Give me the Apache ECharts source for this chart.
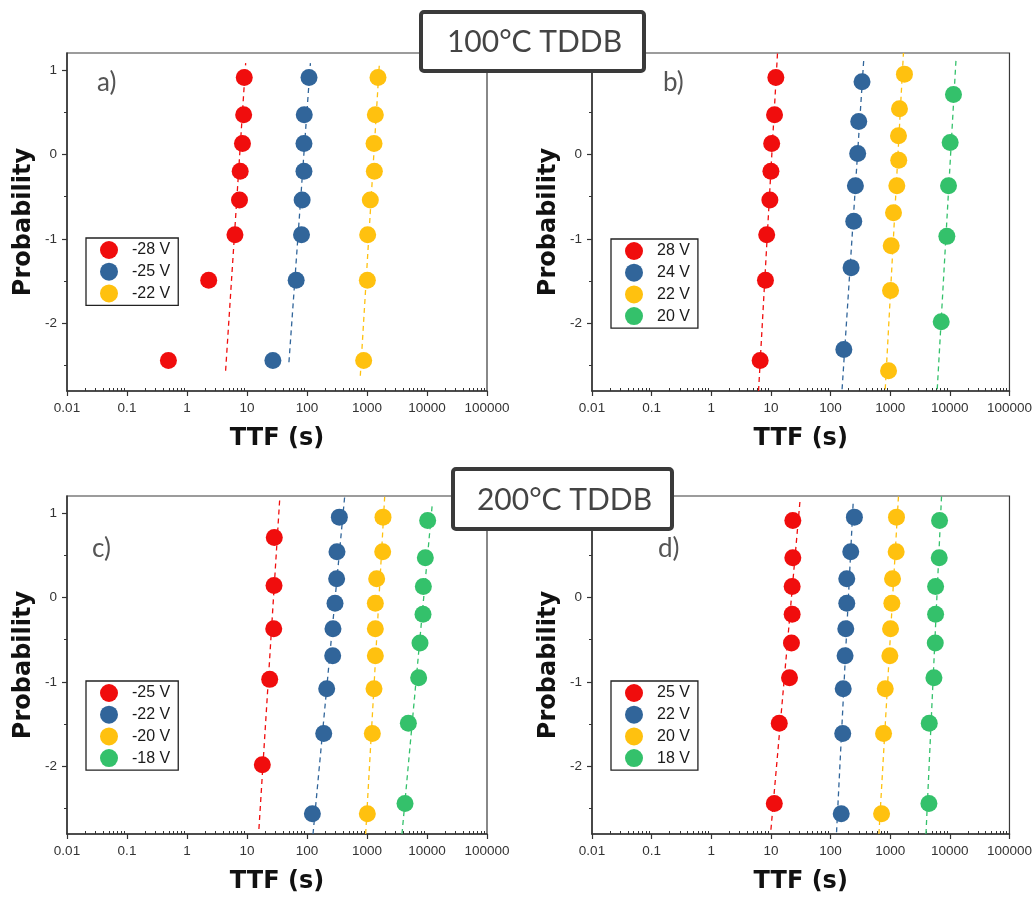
<!DOCTYPE html>
<html>
<head>
<meta charset="utf-8">
<script src="https://cdn.jsdelivr.net/npm/echarts@6/dist/echarts.min.js"></script>
<style>
  html, body { margin: 0; padding: 0; background: #fff; }
  #chart { width: 1035px; height: 900px; }
</style>
</head>
<body>
<div id="chart"></div>
<script>
// ---- axis ticks ----
const xTicks = [0.01, 0.1, 1, 10, 100, 1000, 10000, 100000];
const xTickLabels = ['0.01', '0.1', '1', '10', '100', '1000', '10000', '100000'];
const yTicks = [-2, -1, 0, 1];
const yTickLabels = ['-2', '-1', '0', '1'];
const yMinorTicks = [-2.5, -1.5, -0.5, 0.5];
// right-hand panels: the top tick sits under the temperature banner
const yTicksRight = [-2, -1, 0];

// ---- Weibull plotting positions (probability axis), by sample count ----
const prob5 = [-1.98, -0.97, -0.37, 0.14, 0.71];
const prob7 = [-2.31, -1.34, -0.79, -0.37, 0.01, 0.39, 0.86];
const prob8 = [-2.44, -1.49, -0.95, -0.54, -0.20, 0.13, 0.47, 0.91];
const prob9 = [-2.56, -1.61, -1.08, -0.69, -0.37, -0.07, 0.22, 0.54, 0.95];

// ---- a) 100 °C, negative gate stress: time to failure (s) ----
const ttfA_m28 = [0.49, 2.3, 6.3, 7.5, 7.7, 8.4, 8.8, 9.0];
const ttfA_m25 = [27, 66, 81, 83, 89, 89, 90, 108];
const ttfA_m22 = [880, 1014, 1026, 1136, 1326, 1309, 1377, 1525];
const fitA_m28 = [[4.4, -2.56], [9.5, 1.08]];
const fitA_m25 = [[50, -2.46], [114, 1.08]];
const fitA_m22 = [[774, -2.62], [1600, 1.05]];

// ---- b) 100 °C, positive gate stress ----
const ttfB_28 = [6.6, 8.1, 8.5, 9.6, 10.0, 10.3, 11.5, 12.1];
const ttfB_24 = [167, 221, 245, 261, 285, 297, 337];
const ttfB_22 = [938, 1013, 1039, 1136, 1292, 1390, 1377, 1431, 1733];
const ttfB_20 = [7170, 8910, 9500, 10130, 11510];
const fitB_28 = [[6.2, -2.8], [12.9, 1.2]];
const fitB_24 = [[156, -2.78], [360, 1.12]];
const fitB_22 = [[826, -2.78], [1668, 1.2]];
const fitB_20 = [[6150, -2.78], [12760, 1.15]];

// ---- c) 200 °C, negative gate stress ----
const ttfC_m25 = [18.0, 23.9, 27.9, 28.2, 28.5];
const ttfC_m22 = [123, 190, 213, 268, 271, 293, 312, 316, 346];
const ttfC_m20 = [1013, 1227, 1309, 1377, 1377, 1377, 1449, 1825, 1848];
const ttfC_m18 = [4300, 4890, 7260, 7640, 8580, 8690, 9380, 10260];
const fitC_m25 = [[15.8, -2.74], [35, 1.15]];
const fitC_m22 = [[126, -2.8], [424, 1.19]];
const fitC_m20 = [[950, -2.8], [1970, 1.19]];
const fitC_m18 = [[3830, -2.8], [12270, 1.11]];

// ---- d) 200 °C, positive gate stress ----
const ttfD_25 = [11.4, 13.8, 20.5, 22.1, 22.7, 22.7, 23.3, 23.3];
const ttfD_22 = [151, 160, 163, 175, 180, 187, 187, 218, 251];
const ttfD_20 = [717, 774, 826, 987, 1013, 1066, 1094, 1259, 1275];
const ttfD_18 = [4460, 4520, 5410, 5700, 5770, 5770, 6640, 6725];
const fitD_25 = [[10, -2.75], [30.8, 1.15]];
const fitD_22 = [[126, -2.78], [239, 1.11]];
const fitD_20 = [[647, -2.8], [1377, 1.2]];
const fitD_18 = [[3980, -2.8], [7260, 1.2]];

const RED = '#F00D0D', BLUE = '#31659A', YELLOW = '#FFC10F', GREEN = '#34C16B';

const panels = [
  { id: 'a', tag: 'a)', box: { left: 67, top: 53 }, legendPos: { left: 86, top: 238 }, tagPos: [97, 70], yMajor: yTicks,
    sets: [
      { name: '-28 V', color: RED, ttf: ttfA_m28, prob: prob8, fit: fitA_m28 },
      { name: '-25 V', color: BLUE, ttf: ttfA_m25, prob: prob8, fit: fitA_m25 },
      { name: '-22 V', color: YELLOW, ttf: ttfA_m22, prob: prob8, fit: fitA_m22 }
    ] },
  { id: 'b', tag: 'b)', box: { left: 592, top: 53 }, legendPos: { left: 611, top: 239 }, tagPos: [663, 70], yMajor: yTicksRight,
    sets: [
      { name: '28 V', color: RED, ttf: ttfB_28, prob: prob8, fit: fitB_28 },
      { name: '24 V', color: BLUE, ttf: ttfB_24, prob: prob7, fit: fitB_24 },
      { name: '22 V', color: YELLOW, ttf: ttfB_22, prob: prob9, fit: fitB_22 },
      { name: '20 V', color: GREEN, ttf: ttfB_20, prob: prob5, fit: fitB_20 }
    ] },
  { id: 'c', tag: 'c)', box: { left: 67, top: 496 }, legendPos: { left: 86, top: 681 }, tagPos: [92, 536], yMajor: yTicks,
    sets: [
      { name: '-25 V', color: RED, ttf: ttfC_m25, prob: prob5, fit: fitC_m25 },
      { name: '-22 V', color: BLUE, ttf: ttfC_m22, prob: prob9, fit: fitC_m22 },
      { name: '-20 V', color: YELLOW, ttf: ttfC_m20, prob: prob9, fit: fitC_m20 },
      { name: '-18 V', color: GREEN, ttf: ttfC_m18, prob: prob8, fit: fitC_m18 }
    ] },
  { id: 'd', tag: 'd)', box: { left: 592, top: 496 }, legendPos: { left: 611, top: 681 }, tagPos: [658, 536], yMajor: yTicksRight,
    sets: [
      { name: '25 V', color: RED, ttf: ttfD_25, prob: prob8, fit: fitD_25 },
      { name: '22 V', color: BLUE, ttf: ttfD_22, prob: prob9, fit: fitD_22 },
      { name: '20 V', color: YELLOW, ttf: ttfD_20, prob: prob9, fit: fitD_20 },
      { name: '18 V', color: GREEN, ttf: ttfD_18, prob: prob8, fit: fitD_18 }
    ] }
];

// minor ticks of the log axis: 2..9 within each decade
const xMinorTicks = [];
for (let e = -2; e < 5; e++) {
  for (let m = 2; m <= 9; m++) xMinorTicks.push(m * Math.pow(10, e));
}

const PLOT_W = 420, PLOT_H = 338;
const AXIS_COLOR = '#333';
const tickFont = { fontFamily: 'Liberation Sans', fontSize: 13.5, color: '#333' };
const nameFont = { fontFamily: 'DejaVu Sans', fontWeight: 'bold', fontSize: 24, color: '#111' };

function xLabel(v) {
  const i = xTicks.findIndex(t => Math.abs(Math.log10(t) - Math.log10(v)) < 1e-6);
  return i >= 0 ? xTickLabels[i] : '';
}
function yLabel(v) {
  const i = yTicks.findIndex(t => Math.abs(t - v) < 1e-6);
  return i >= 0 ? yTickLabels[i] : '';
}

const grid = [], xAxis = [], yAxis = [], series = [], legend = [], graphic = [];

panels.forEach((p, g) => {
  grid.push({
    left: p.box.left, top: p.box.top, width: PLOT_W, height: PLOT_H,
    show: true, borderColor: '#3a3a3a', borderWidth: 1.2, backgroundColor: 'transparent'
  });
  // main log axis with labels
  xAxis.push({
    type: 'log', logBase: 10, gridIndex: g, min: 0.01, max: 100000, position: 'bottom',
    name: 'TTF (s)', nameLocation: 'middle', nameGap: 36, nameTextStyle: nameFont,
    axisLine: { show: true, onZero: false, lineStyle: { color: AXIS_COLOR, width: 1.5 } },
    axisTick: { show: true, customValues: xTicks, length: 5, lineStyle: { color: AXIS_COLOR, width: 1.2 } },
    axisLabel: Object.assign({ customValues: xTicks, margin: 10, formatter: xLabel }, tickFont),
    splitLine: { show: false }, minorTick: { show: false }
  });
  // overlay carrying the minor ticks
  xAxis.push({
    type: 'log', logBase: 10, gridIndex: g, min: 0.01, max: 100000, position: 'bottom',
    axisLine: { show: false, onZero: false },
    axisTick: { show: true, customValues: xMinorTicks, length: 3, inside: true, lineStyle: { color: AXIS_COLOR, width: 1 } },
    axisLabel: { show: false, customValues: xMinorTicks },
    splitLine: { show: false }
  });
  yAxis.push({
    type: 'value', gridIndex: g, min: -2.8, max: 1.2, position: 'left',
    name: 'Probability', nameLocation: 'middle', nameGap: 31, nameTextStyle: nameFont,
    axisLine: { show: true, onZero: false, lineStyle: { color: AXIS_COLOR, width: 1.5 } },
    axisTick: { show: true, customValues: p.yMajor, length: 5, lineStyle: { color: AXIS_COLOR, width: 1.2 } },
    axisLabel: Object.assign({ customValues: p.yMajor, margin: 10, formatter: yLabel }, tickFont),
    splitLine: { show: false }
  });
  yAxis.push({
    type: 'value', gridIndex: g, min: -2.8, max: 1.2, position: 'left',
    axisLine: { show: false, onZero: false },
    axisTick: { show: true, customValues: yMinorTicks, length: 3, lineStyle: { color: AXIS_COLOR, width: 1 } },
    axisLabel: { show: false, customValues: yMinorTicks },
    splitLine: { show: false }
  });

  const legendNames = [];
  p.sets.forEach(s => {
    const key = p.id + ':' + s.name;
    legendNames.push(key);
    series.push({
      name: key + ':fit', type: 'line', xAxisIndex: 2 * g, yAxisIndex: 2 * g,
      data: s.fit, showSymbol: false, symbol: 'none', silent: true, z: 2,
      lineStyle: { color: s.color, width: 1.3, type: [5, 4] }
    });
    series.push({
      name: key, type: 'scatter', xAxisIndex: 2 * g, yAxisIndex: 2 * g,
      data: s.ttf.map((t, i) => [t, s.prob[i]]),
      symbol: 'circle', symbolSize: 17, z: 3,
      itemStyle: { color: s.color, opacity: 1 }
    });
  });

  legend.push({
    data: legendNames, orient: 'vertical', left: p.legendPos.left, top: p.legendPos.top,
    icon: 'circle', itemWidth: 36, itemHeight: 18, itemGap: 3.7,
    padding: [3, 8, 3, 14], borderColor: '#222', borderWidth: 1.3, backgroundColor: '#fff',
    formatter: n => n.split(':')[1],
    textStyle: { fontFamily: 'Liberation Sans', fontSize: 16, color: '#1a1a1a' },
    selectedMode: false, z: 10
  });

  graphic.push({
    type: 'text', x: p.tagPos[0], y: p.tagPos[1], z: 50,
    style: { text: p.tag, font: '26px Lato', fill: '#555', align: 'left', verticalAlign: 'top' }
  });
});

// temperature banners
[
  { text: '100°C TDDB', x: 421, y: 12, w: 223, h: 59 },
  { text: '200°C TDDB', x: 453, y: 469, w: 219, h: 60 }
].forEach(b => {
  graphic.push({
    type: 'group', z: 100,
    children: [
      { type: 'rect', z: 100, shape: { x: b.x, y: b.y, width: b.w, height: b.h, r: 3 },
        style: { fill: '#fff', stroke: '#3a3a3a', lineWidth: 4 } },
      { type: 'text', z: 101, x: b.x + b.w / 2 + 2, y: b.y + b.h / 2 + 1,
        style: { text: b.text, font: '30px Lato', fill: '#444', align: 'center', verticalAlign: 'middle' } }
    ]
  });
});

const chart = echarts.init(document.getElementById('chart'), null, { renderer: 'canvas' });
chart.setOption({
  animation: false,
  backgroundColor: '#fff',
  grid, xAxis, yAxis, series, legend, graphic
});
</script>
</body>
</html>
